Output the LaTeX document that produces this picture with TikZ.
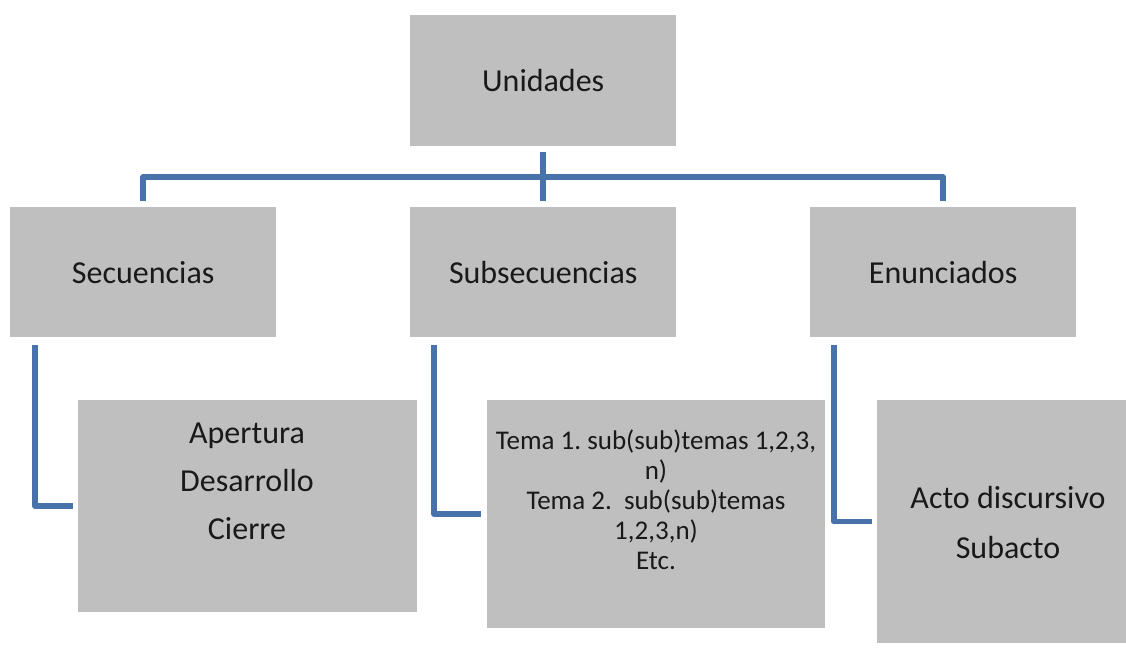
\documentclass[tikz,border=0pt]{standalone}
\usepackage{fontspec}
\setmainfont{Carlito}
\frenchspacing
\definecolor{boxgray}{RGB}{191,191,191}
\definecolor{linkblue}{RGB}{72,114,170}
\definecolor{txt}{RGB}{25,25,25}
\tikzset{
  box/.style={fill=boxgray, draw=none, inner sep=0pt, anchor=north west, text=txt,
              font=\fontsize{32}{40}\selectfont},
  label/.style={align=center, text=txt, inner sep=0pt},
  conn/.style={draw=linkblue, line width=5.5pt, line join=round, line cap=butt},
}
\begin{document}
\begin{tikzpicture}[x=1pt, y=-1pt]
\clip (0,0) rectangle (1126,648);
\fill[white] (0,0) rectangle (1126,648);
% boxes
\node[box, minimum width=266pt, minimum height=131pt] (U) at (410,15) {Unidades};
\node[box, minimum width=266pt, minimum height=130pt] (S1) at (10,207) {Secuencias};
\node[box, minimum width=266pt, minimum height=130pt] (S2) at (410,207) {Subsecuencias};
\node[box, minimum width=266pt, minimum height=130pt] (S3) at (810,207) {Enunciados};
\node[box, minimum width=339pt, minimum height=212pt] (B1) at (78,400) {};
\node[box, minimum width=338pt, minimum height=228pt] (B2) at (487,400) {};
\node[box, minimum width=280pt, minimum height=243pt] (B3) at (877,400) {};
% texts
\node[label, font=\fontsize{32}{48}\selectfont] (T1) at (247,481) {Apertura\\Desarrollo\\Cierre};
\node[label, font=\fontsize{27}{30}\selectfont] (T2) at (656,500) {Tema 1. sub(sub)temas 1,2,3,\\n)\\Tema 2.\ \ sub(sub)temas\\1,2,3,n)\\Etc.};
\node[label, font=\fontsize{32}{50}\selectfont] (T3) at (1008,522) {Acto discursivo\\Subacto};
% connectors
\draw[conn] ([yshift=-6pt]U.south) -- ([yshift=6pt]S2.north);
\draw[conn] ([yshift=6pt]S1.north) -- ++(0,-24) -| ([yshift=6pt]S3.north);
\draw[conn] ([xshift=25pt,yshift=-8pt]S1.south west) |- ([xshift=-5pt]B1.west);
\draw[conn] ([xshift=24pt,yshift=-8pt]S2.south west) |- ([xshift=-6pt]B2.west);
\draw[conn] ([xshift=24pt,yshift=-8pt]S3.south west) |- ([xshift=-5pt]B3.west);
\end{tikzpicture}
\end{document}
